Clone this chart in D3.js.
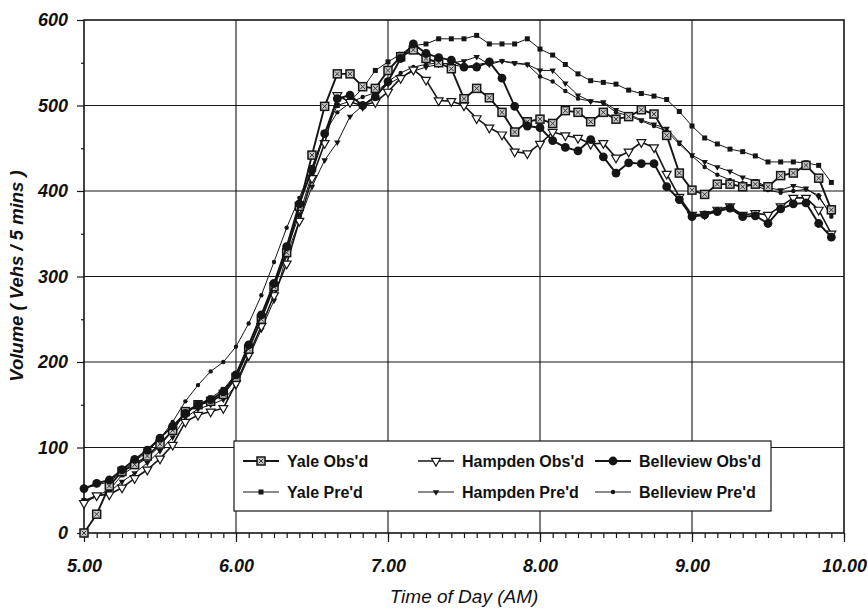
<!DOCTYPE html>
<html>
<head>
<meta charset="utf-8">
<script src="https://cdn.jsdelivr.net/npm/d3@7"></script>
<style>
  body { margin: 0; background: #fff; }
  svg { display: block; }
  text { font-family: Arial, "Liberation Sans", sans-serif; fill: #111; }
</style>
</head>
<body>
<svg id="chart" width="868" height="609"></svg>
<script>
// ------------------------------------------------------------------ //
// DATA ---------------------------------------------------------------//
// ------------------------------------------------------------------ //

// minutes after 5:00 AM, one reading every 5 mins
var minutes = [0, 5, 10, 15, 20, 25, 30, 35, 40, 45, 50, 55,
    60, 65, 70, 75, 80, 85, 90, 95, 100, 105, 110, 115,
    120, 125, 130, 135, 140, 145, 150, 155, 160, 165, 170, 175,
    180, 185, 190, 195, 200, 205, 210, 215, 220, 225, 230, 235,
    240, 245, 250, 255, 260, 265, 270, 275, 280, 285, 290, 295]

var yaleObs = [0, 22, 55, 72, 80, 90, 104, 120, 142, 150,
    154, 162, 182, 215, 250, 288, 328, 382, 442, 499,
    537, 537, 522, 520, 541, 557, 565, 555, 550, 543,
    508, 520, 509, 492, 469, 481, 484, 479, 494, 492,
    481, 492, 484, 487, 495, 490, 465, 421, 401, 396,
    408, 408, 405, 408, 405, 418, 421, 430, 415, 378]

var yalePred = [38, 44, 50, 68, 78, 88, 102, 120, 140, 150,
    158, 168, 186, 220, 255, 292, 332, 372, 420, 468,
    500, 505, 520, 541, 551, 560, 570, 572, 578, 578,
    578, 582, 572, 572, 572, 578, 566, 559, 548, 537,
    529, 527, 525, 518, 514, 511, 507, 493, 476, 462,
    455, 449, 446, 441, 434, 434, 434, 433, 430, 410]

var hampdenObs = [35, 44, 45, 53, 64, 74, 87, 103, 130, 138,
    142, 146, 175, 208, 242, 278, 315, 365, 415, 456,
    512, 504, 500, 504, 516, 532, 542, 530, 506, 505,
    500, 485, 474, 466, 446, 444, 455, 469, 465, 462,
    455, 456, 439, 446, 457, 451, 420, 393, 372, 373,
    378, 382, 372, 374, 372, 382, 392, 392, 378, 350]

var hampdenPred = [38, 42, 48, 60, 70, 82, 96, 112, 135, 145,
    150, 156, 172, 205, 238, 272, 325, 365, 405, 436,
    457, 487, 500, 512, 525, 533, 540, 545, 548, 550,
    552, 557, 548, 552, 550, 548, 541, 541, 526, 512,
    505, 504, 495, 490, 483, 478, 473, 457, 442, 434,
    428, 423, 416, 412, 404, 401, 406, 403, 393, 372]

var belleviewObs = [52, 58, 62, 74, 86, 97, 111, 125, 140, 150,
    156, 165, 185, 220, 255, 292, 335, 385, 425, 467,
    508, 512, 500, 510, 528, 555, 572, 561, 556, 553,
    545, 545, 551, 532, 499, 476, 474, 459, 451, 447,
    460, 440, 421, 433, 432, 432, 405, 390, 370, 372,
    376, 380, 370, 371, 362, 379, 385, 386, 362, 346]

var belleviewPred = [52, 56, 60, 72, 84, 95, 110, 130, 154, 173,
    189, 200, 218, 245, 278, 317, 357, 392, 428, 468,
    492, 503, 510, 515, 528, 538, 545, 548, 550, 548,
    545, 548, 550, 552, 549, 548, 534, 528, 517, 508,
    505, 503, 492, 488, 482, 476, 470, 455, 441, 428,
    419, 413, 409, 406, 401, 398, 400, 402, 395, 370]

var xTicks = [5, 6, 7, 8, 9, 10]
var yTicks = [0, 100, 200, 300, 400, 500, 600]

var series = [
    { name: "Yale Obs'd", values: yaleObs, marker: "yaleObs", width: 1.9 },
    { name: "Hampden Obs'd", values: hampdenObs, marker: "hampdenObs", width: 1.6 },
    { name: "Belleview Obs'd", values: belleviewObs, marker: "belleviewObs", width: 1.9 },
    { name: "Yale Pre'd", values: yalePred, marker: "yalePred", width: 1 },
    { name: "Hampden Pre'd", values: hampdenPred, marker: "hampdenPred", width: 1 },
    { name: "Belleview Pre'd", values: belleviewPred, marker: "belleviewPred", width: 1 }
]

// ------------------------------------------------------------------ //
// SETUP --------------------------------------------------------------//
// ------------------------------------------------------------------ //

var svg = d3.select('#chart')
var ink = '#151515'

var x = d3.scaleLinear()
    .domain([5, 10])
    .range([84, 844])

var y = d3.scaleLinear()
    .domain([0, 600])
    .range([533, 20])

var hourOf = function (m) { return 5 + m / 60 }

// grid
svg.append('g')
    .selectAll('line')
    .data([6, 7, 8, 9])
    .enter()
    .append('line')
    .attr('x1', function (d) { return x(d) })
    .attr('x2', function (d) { return x(d) })
    .attr('y1', y(0))
    .attr('y2', y(600))
    .attr('stroke', ink)
    .attr('stroke-width', 1.1)

svg.append('g')
    .selectAll('line')
    .data([100, 200, 300, 400, 500])
    .enter()
    .append('line')
    .attr('x1', x(5))
    .attr('x2', x(10))
    .attr('y1', function (d) { return y(d) })
    .attr('y2', function (d) { return y(d) })
    .attr('stroke', ink)
    .attr('stroke-width', 1.1)

// axes
var xMinor = d3.axisBottom(x)
    .tickValues(minutes.map(hourOf).concat([10]))
    .tickSize(5)
    .tickFormat('')

svg.append('g')
    .attr('transform', 'translate(0,' + y(0) + ')')
    .call(xMinor)
    .call(function (g) { g.select('.domain').remove() })

var xAxis = d3.axisBottom(x)
    .tickValues(xTicks)
    .tickSize(9)
    .tickPadding(17)
    .tickFormat(d3.format('.2f'))

svg.append('g')
    .attr('class', 'axis')
    .attr('transform', 'translate(0,' + y(0) + ')')
    .call(xAxis)
    .call(function (g) { g.select('.domain').remove() })

var yMinor = d3.axisLeft(y)
    .tickValues([50, 150, 250, 350, 450, 550])
    .tickSize(3)
    .tickFormat('')

svg.append('g')
    .attr('transform', 'translate(' + x(5) + ',0)')
    .call(yMinor)
    .call(function (g) { g.select('.domain').remove() })

var yAxis = d3.axisLeft(y)
    .tickValues(yTicks)
    .tickSize(7)
    .tickPadding(9)

svg.append('g')
    .attr('class', 'axis')
    .attr('transform', 'translate(' + x(5) + ',0)')
    .call(yAxis)
    .call(function (g) { g.select('.domain').remove() })

svg.selectAll('.tick line')
    .attr('stroke', ink)
    .attr('stroke-width', 1.2)

svg.selectAll('.axis text')
    .style('font-family', 'Arial, "Liberation Sans", sans-serif')
    .style('font-size', '18px')
    .style('font-weight', 'bold')
    .style('font-style', 'italic')
    .attr('fill', ink)

// plot border
svg.append('rect')
    .attr('x', x(5))
    .attr('y', y(600))
    .attr('width', x(10) - x(5))
    .attr('height', y(0) - y(600))
    .attr('fill', 'none')
    .attr('stroke', ink)
    .attr('stroke-width', 1.6)

// axis labels
svg.append('text')
    .attr('x', 464)
    .attr('y', 603)
    .attr('text-anchor', 'middle')
    .style('font-size', '19px')
    .style('font-style', 'italic')
    .text('Time of Day (AM)')

svg.append('text')
    .attr('transform', 'translate(23,' + 276 + ') rotate(-90)')
    .attr('text-anchor', 'middle')
    .style('font-size', '18.5px')
    .style('font-style', 'italic')
    .style('font-weight', 'bold')
    .text('Volume ( Vehs / 5 mins )')

// ------------------------------------------------------------------ //
// MARKERS ------------------------------------------------------------//
// ------------------------------------------------------------------ //

var drawMarker = function (g, kind) {
    if (kind == 'yaleObs') {
        g.append('rect')
            .attr('x', -4).attr('y', -4)
            .attr('width', 8).attr('height', 8)
            .attr('fill', '#c8c8c8')
            .attr('stroke', ink)
            .attr('stroke-width', 1.5)
        g.append('path')
            .attr('d', 'M-2.3,-2.3L2.3,2.3M2.3,-2.3L-2.3,2.3')
            .attr('stroke', '#333')
            .attr('stroke-width', 1)
    } else if (kind == 'hampdenObs') {
        g.append('path')
            .attr('d', d3.symbol().type(d3.symbolTriangle).size(34)())
            .attr('transform', 'rotate(180)')
            .attr('fill', '#fff')
            .attr('stroke', ink)
            .attr('stroke-width', 1.2)
    } else if (kind == 'belleviewObs') {
        g.append('circle')
            .attr('r', 4.4)
            .attr('fill', ink)
    } else if (kind == 'yalePred') {
        g.append('rect')
            .attr('x', -2.5).attr('y', -2.5)
            .attr('width', 5).attr('height', 5)
            .attr('fill', ink)
    } else if (kind == 'hampdenPred') {
        g.append('path')
            .attr('d', d3.symbol().type(d3.symbolTriangle).size(18)())
            .attr('transform', 'rotate(180)')
            .attr('fill', ink)
    } else {
        g.append('circle')
            .attr('r', 2.2)
            .attr('fill', ink)
    }
}

// ------------------------------------------------------------------ //
// LINES --------------------------------------------------------------//
// ------------------------------------------------------------------ //

var line = d3.line()
    .x(function (d, i) { return x(hourOf(minutes[i])) })
    .y(function (d) { return y(d) })

// predicted first, observed on top
var drawOrder = [3, 4, 5, 1, 0, 2]

drawOrder.forEach(function (k) {
    var s = series[k]
    var g = svg.append('g').attr('class', 'series')

    g.append('path')
        .datum(s.values)
        .attr('d', line)
        .attr('fill', 'none')
        .attr('stroke', ink)
        .attr('stroke-width', s.width)
        .attr('stroke-linejoin', 'round')

    g.selectAll('g.pt')
        .data(s.values)
        .enter()
        .append('g')
        .attr('class', 'pt')
        .attr('transform', function (d, i) {
            return 'translate(' + x(hourOf(minutes[i])) + ',' + y(d) + ')'
        })
        .each(function () { drawMarker(d3.select(this), s.marker) })
})

// ------------------------------------------------------------------ //
// LEGEND -------------------------------------------------------------//
// ------------------------------------------------------------------ //

var legend = svg.append('g')

legend.append('rect')
    .attr('x', 234)
    .attr('y', 441)
    .attr('width', 537)
    .attr('height', 70)
    .attr('fill', '#fff')
    .attr('stroke', ink)
    .attr('stroke-width', 1.2)

var colX = [243, 418, 595]
var rowY = [461, 492]

series.forEach(function (s, k) {
    var cx = colX[k % 3]
    var cy = rowY[Math.floor(k / 3)]
    var item = legend.append('g')
        .attr('transform', 'translate(' + cx + ',' + cy + ')')

    item.append('line')
        .attr('x1', 0).attr('x2', 36)
        .attr('stroke', ink)
        .attr('stroke-width', s.width)

    drawMarker(item.append('g').attr('transform', 'translate(18,0)'), s.marker)

    item.append('text')
        .attr('x', 44)
        .attr('dy', '0.36em')
        .style('font-size', '16px')
        .style('font-weight', 'bold')
        .text(s.name)
})
</script>
</body>
</html>
